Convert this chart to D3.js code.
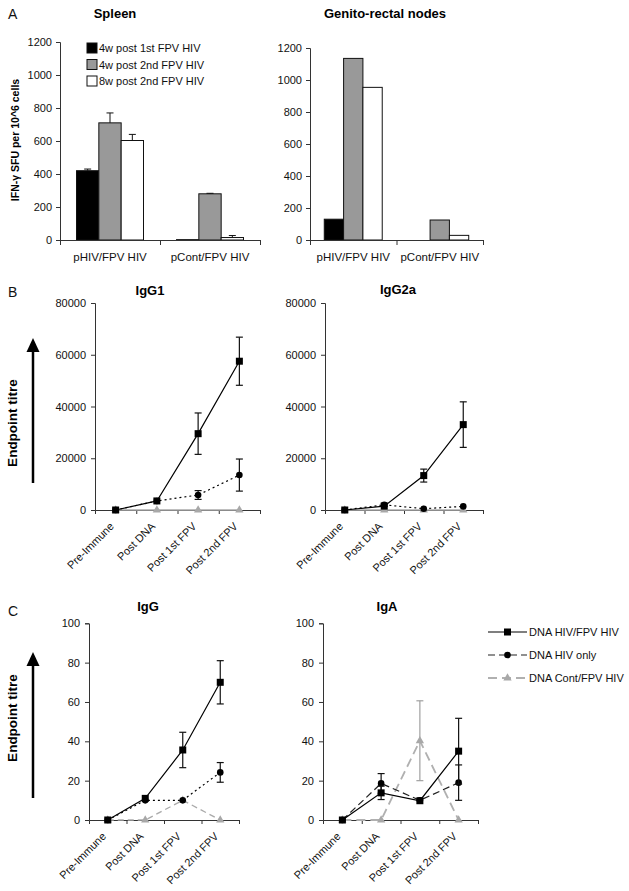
<!DOCTYPE html>
<html><head><meta charset="utf-8">
<script src="https://cdn.jsdelivr.net/npm/d3@7"></script>
<style>
body{margin:0;background:#fff;}
svg{font-family:"Liberation Sans",Arial,Helvetica,sans-serif;}
</style></head>
<body>
<svg id="chart" width="629" height="891"></svg>
<script>
// ---------- DATA ----------
const barCategories = ["pHIV/FPV HIV", "pCont/FPV HIV"];
const barSeries = ["4w post 1st FPV HIV", "4w post 2nd FPV HIV", "8w post 2nd FPV HIV"];
const spleenValues = [[420, 710, 603], [2, 280, 15]];
const spleenErrors = [[10, 60, 37], [0, 3, 12]];
const genitoValues = [[130, 1135, 954], [0, 125, 29]];
const barTicks = [0, 200, 400, 600, 800, 1000, 1200];

const timepoints = ["Pre-Immune", "Post DNA", "Post 1st FPV", "Post 2nd FPV"];
const lineSeries = ["DNA HIV/FPV HIV", "DNA HIV only", "DNA Cont/FPV HIV"];
const igg1Values = [[0, 3500, 29500, 57500], [0, 3500, 5800, 13500], [0, 0, 0, 0]];
const igg1Errors = [[0, 0, 8000, 9300], [0, 0, 1700, 6200], [0, 0, 0, 0]];
const igg2aValues = [[0, 1500, 13300, 33000], [0, 2000, 500, 1400], [0, 0, 0, 0]];
const igg2aErrors = [[0, 0, 2500, 8800], [0, 600, 0, 0], [0, 0, 0, 0]];
const titreTicks = [0, 20000, 40000, 60000, 80000];
const iggValues = [[0, 11, 35.6, 70], [0, 10, 10, 24.2], [0, 0, 10, 0]];
const iggErrors = [[0, 0, 9, 11], [0, 0, 0, 5], [0, 0, 0, 0]];
const igaValues = [[0, 13.8, 9.8, 35], [0, 18.6, 10, 19], [0, 0, 40.3, 0]];
const igaErrors = [[0, 3.4, 0, 16.7], [0, 5, 0, 9], [0, 0, 20.3, 0]];
const percentTicks = [0, 20, 40, 60, 80, 100];

// ---------- DRAW ----------
const svg = d3.select("#chart");
const barFills = ["#000000", "#999999", "#ffffff"];
const axisColor = "#333";

function styleAxis(g) {
  g.selectAll("path,line").attr("stroke", axisColor);
  g.selectAll("text").attr("fill", "#111").style("font-size", "11px")
    .style("font-family", '"Liberation Sans",Arial,sans-serif');
}

function barPanel(o) {
  const y = d3.scaleLinear().domain([0, 1200]).range([o.y1, o.y0]);
  const band = d3.scaleBand().domain(barCategories).range([o.x0, o.x1]).padding(0);
  const inner = d3.scaleBand().domain(barSeries)
    .range([band.bandwidth() * 0.165, band.bandwidth() * 0.835]).padding(0);
  const g = svg.append("g");
  const ya = g.append("g").attr("transform", `translate(${o.x0},0)`)
    .call(d3.axisLeft(y).tickValues(barTicks).tickSize(4).tickPadding(4).tickFormat(d3.format("d")));
  styleAxis(ya);
  barCategories.forEach((c, ci) => {
    barSeries.forEach((s, si) => {
      const v = o.values[ci][si];
      const x = band(c) + inner(s);
      g.append("rect").attr("x", x).attr("width", inner.bandwidth())
        .attr("y", y(v)).attr("height", y(0) - y(v))
        .attr("fill", barFills[si]).attr("stroke", "#111").attr("stroke-width", 1);
      if (o.errors && o.errors[ci][si] > 0) {
        const cx = x + inner.bandwidth() / 2;
        const e = o.errors[ci][si];
        g.append("line").attr("x1", cx).attr("x2", cx).attr("y1", y(v)).attr("y2", y(v + e))
          .attr("stroke", "#111");
        g.append("line").attr("x1", cx - 3.5).attr("x2", cx + 3.5).attr("y1", y(v + e)).attr("y2", y(v + e))
          .attr("stroke", "#111");
      }
    });
  });
  const xi = d3.scaleLinear().domain([0, barCategories.length]).range([o.x0, o.x1]);
  const xa = g.append("g").attr("transform", `translate(0,${o.y1})`)
    .call(d3.axisBottom(xi).tickValues(d3.range(barCategories.length + 1)).tickSize(5).tickFormat(""));
  styleAxis(xa);
  barCategories.forEach(c => {
    g.append("text").attr("x", band(c) + band.bandwidth() / 2).attr("y", o.y1 + 21)
      .attr("text-anchor", "middle").style("font-size", "11.5px").attr("fill", "#111").text(c);
  });
  g.append("text").attr("x", o.titleX).attr("y", 18).attr("text-anchor", "middle")
    .style("font-size", "13px").style("font-weight", "bold").text(o.title);
}

barPanel({x0: 60, x1: 260, y0: 42, y1: 240, values: spleenValues, errors: spleenErrors,
  title: "Spleen", titleX: 115});
barPanel({x0: 310, x1: 483, y0: 48, y1: 240, values: genitoValues, errors: null,
  title: "Genito-rectal nodes", titleX: 385});

// legend A
barSeries.forEach((s, i) => {
  const ly = 48 + i * 16.5;
  svg.append("rect").attr("x", 87).attr("y", ly - 5).attr("width", 10).attr("height", 10)
    .attr("fill", barFills[i]).attr("stroke", "#111");
  svg.append("text").attr("x", 99).attr("y", ly + 4).style("font-size", "11px").attr("fill", "#111").text(s);
});
svg.append("text").attr("transform", "translate(19,140) rotate(-90)").attr("text-anchor", "middle")
  .style("font-size", "10.5px").style("font-weight", "bold").text("IFN-\u03B3 SFU per 10^6 cells");

// ---------- line panels ----------
const seriesStyles = {
  B: [{stroke: "#000", dash: null, w: 1.2}, {stroke: "#000", dash: "2,3", w: 1.2}, {stroke: "#aaa", dash: null, w: 1.5}],
  C: [{stroke: "#000", dash: null, w: 1.2}, {stroke: "#000", dash: "2,3", w: 1.2}, {stroke: "#aaa", dash: "6,4", w: 1.3}],
  A: [{stroke: "#000", dash: null, w: 1.2}, {stroke: "#222", dash: "7,4", w: 1.2}, {stroke: "#b0b0b0", dash: "9,5", w: 1.8}]
};
const markerFill = ["#000", "#000", "#a8a8a8"];

function drawMarker(g, type, x, y, fill) {
  if (type === 0) g.append("rect").attr("x", x - 3.5).attr("y", y - 3.5).attr("width", 7).attr("height", 7).attr("fill", fill);
  else if (type === 1) g.append("circle").attr("cx", x).attr("cy", y).attr("r", 3.3).attr("fill", fill);
  else g.append("path").attr("d", d3.symbol(d3.symbolTriangle, 30)()).attr("transform", `translate(${x},${y})`).attr("fill", fill);
}

function linePanel(o) {
  const y = d3.scaleLinear().domain([0, o.max]).range([o.y1, o.y0]);
  const band = d3.scaleBand().domain(timepoints).range([o.x0, o.x1]).padding(0);
  const xc = d => band(d) + band.bandwidth() / 2;
  const g = svg.append("g");
  const ya = g.append("g").attr("transform", `translate(${o.x0},0)`)
    .call(d3.axisLeft(y).tickValues(o.ticks).tickSize(4).tickPadding(5).tickFormat(d3.format("d")));
  styleAxis(ya);
  const xi = d3.scaleLinear().domain([0, timepoints.length]).range([o.x0, o.x1]);
  const xa = g.append("g").attr("transform", `translate(0,${o.y1})`)
    .call(d3.axisBottom(xi).tickValues(d3.range(1, timepoints.length + 1)).tickSize(4).tickFormat(""));
  styleAxis(xa);
  timepoints.forEach(t => {
    g.append("text").attr("text-anchor", "end")
      .attr("transform", `translate(${xc(t) - 1},${o.y1 + 17}) rotate(-45)`)
      .style("font-size", "11px").attr("fill", "#111").text(t);
  });
  const styles = seriesStyles[o.style];
  const line = d3.line().x((d, i) => xc(timepoints[i])).y(d => y(d));
  [2, 1, 0].forEach(si => {
    const st = styles[si];
    g.append("path").datum(o.values[si]).attr("d", line).attr("fill", "none")
      .attr("stroke", st.stroke).attr("stroke-width", st.w).attr("stroke-dasharray", st.dash);
  });
  [2, 1, 0].forEach(si => {
    o.values[si].forEach((v, i) => {
      const e = o.errors[si][i];
      const cx = xc(timepoints[i]);
      const col = si === 2 ? "#a0a0a0" : "#111";
      if (e > 0) {
        g.append("line").attr("x1", cx).attr("x2", cx).attr("y1", y(v - e)).attr("y2", y(v + e)).attr("stroke", col).attr("stroke-width", 1.2);
        [v - e, v + e].forEach(ev => g.append("line").attr("x1", cx - 3.5).attr("x2", cx + 3.5)
          .attr("y1", y(ev)).attr("y2", y(ev)).attr("stroke", col).attr("stroke-width", 1.2));
      }
      drawMarker(g, si, cx, y(v), markerFill[si]);
    });
  });
  g.append("text").attr("x", o.titleX).attr("y", o.titleY).attr("text-anchor", "middle")
    .style("font-size", "13px").style("font-weight", "bold").text(o.title);
}

linePanel({x0: 95, x1: 260, y0: 303, y1: 510, max: 80000, ticks: titreTicks,
  values: igg1Values, errors: igg1Errors, style: "B", title: "IgG1", titleX: 150, titleY: 295});
linePanel({x0: 325, x1: 483, y0: 303, y1: 510, max: 80000, ticks: titreTicks,
  values: igg2aValues, errors: igg2aErrors, style: "B", title: "IgG2a", titleX: 398, titleY: 294});
linePanel({x0: 89, x1: 239, y0: 623.3, y1: 820, max: 100, ticks: percentTicks,
  values: iggValues, errors: iggErrors, style: "C", title: "IgG", titleX: 148, titleY: 611});
linePanel({x0: 323, x1: 478, y0: 623.3, y1: 820, max: 100, ticks: percentTicks,
  values: igaValues, errors: igaErrors, style: "A", title: "IgA", titleX: 387, titleY: 611});

[[423, 483, 338], [718, 798, 652]].forEach(([cy, yb, yt]) => {
  svg.append("text").attr("transform", `translate(17,${cy}) rotate(-90)`).attr("text-anchor", "middle")
    .style("font-size", "13.5px").style("font-weight", "bold").text("Endpoint titre");
  svg.append("line").attr("x1", 33).attr("x2", 33).attr("y1", yb).attr("y2", yt + 12)
    .attr("stroke", "#000").attr("stroke-width", 2.5);
  svg.append("path").attr("d", `M${33},${yt} L${39.5},${yt + 14} L${26.5},${yt + 14} Z`).attr("fill", "#000");
});

lineSeries.forEach((s, i) => {
  const ly = 632 + i * 23;
  const st = seriesStyles.A[i];
  svg.append("line").attr("x1", 488).attr("x2", 527).attr("y1", ly).attr("y2", ly)
    .attr("stroke", st.stroke).attr("stroke-width", st.w).attr("stroke-dasharray", st.dash);
  drawMarker(svg, i, 507.5, ly, markerFill[i]);
  svg.append("text").attr("x", 529).attr("y", ly + 4).style("font-size", "11px").attr("fill", "#111").text(s);
});

[["A", 8, 19], ["B", 8, 297], ["C", 8, 616]].forEach(([t, x, yy]) => {
  svg.append("text").attr("x", x).attr("y", yy).style("font-size", "14px").attr("fill", "#111").text(t);
});
</script>
</body></html>
